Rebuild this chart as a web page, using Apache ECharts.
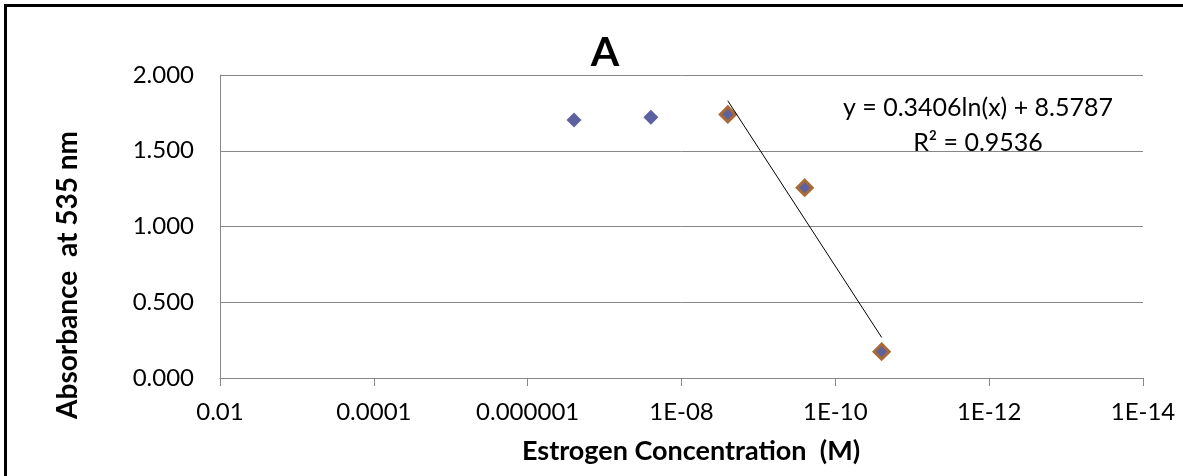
<!DOCTYPE html>
<html>
<head>
<meta charset="utf-8">
<script src="https://cdn.jsdelivr.net/npm/echarts@6/dist/echarts.min.js"></script>
<style>
html,body{margin:0;padding:0;background:#fff;}
#chart{width:1183px;height:476px;}
</style>
</head>
<body>
<div id="chart"></div>
<script>
// ---- data ----
var concentration = [2.5e-7, 2.5e-8, 2.5e-9, 2.5e-10, 2.5e-11];   // M
var absorbance    = [1.703, 1.721, 1.740, 1.256, 0.174];
var fittedIndex   = [2, 3, 4];                                   // points used for the fit
var trendX        = [2.5e-9, 2.5e-11];
var trendY        = [1.830, 0.268];
var xTickLabels   = ['0.01', '0.0001', '0.000001', '1E-08', '1E-10', '1E-12', '1E-14'];
var xTickExps     = [-2, -4, -6, -8, -10, -12, -14];
var equationText  = 'y = 0.3406ln(x) + 8.5787';
var r2Text        = 'R² = 0.9536';
var chartTitle    = 'A';
var xTitle        = 'Estrogen Concentration  (M)';
var yTitle        = 'Absorbance  at 535 nm';

var allPts = concentration.map(function (c, i) { return [c, absorbance[i]]; });
var fitPts = fittedIndex.map(function (i) { return [concentration[i], absorbance[i]]; });
var trendPts = trendX.map(function (x, i) { return [x, trendY[i]]; });

var FONT = 'Lato, "Open Sans", sans-serif';
var chart = echarts.init(document.getElementById('chart'), null, {renderer: 'canvas'});
chart.setOption({
  animation: false,
  backgroundColor: '#ffffff',
  grid: {left: 220, right: 40, top: 75, bottom: 98, containLabel: false},
  xAxis: {
    type: 'log', logBase: 100, min: 1e-14, max: 0.01, inverse: true, splitNumber: 6,
    axisLine: {show: true, lineStyle: {color: '#878787', width: 1}},
    axisTick: {show: true, length: 8, lineStyle: {color: '#878787'}},
    splitLine: {show: false},
    minorTick: {show: false},
    axisLabel: {
      margin: 22, color: '#000', fontFamily: FONT, fontSize: 24,
      formatter: function (v) {
        var e = Math.round(Math.log(v) / Math.LN10);
        var k = xTickExps.indexOf(e);
        return k >= 0 ? xTickLabels[k] : '';
      }
    }
  },
  yAxis: {
    type: 'value', min: 0, max: 2, interval: 0.5,
    axisLine: {show: true, lineStyle: {color: '#878787', width: 1}},
    axisTick: {show: false},
    splitLine: {show: true, lineStyle: {color: '#878787', width: 1}},
    axisLabel: {
      margin: 26, color: '#000', fontFamily: FONT, fontSize: 24,
      formatter: function (v) { return v.toFixed(3); }
    }
  },
  series: [
    {
      type: 'scatter', data: allPts, symbol: 'diamond', symbolSize: 15, z: 3,
      itemStyle: {color: '#5d61a0', opacity: 1}
    },
    {
      type: 'scatter', data: fitPts, symbol: 'diamond', symbolSize: 15, z: 4,
      itemStyle: {color: '#5d61a0', borderColor: '#a86a36', borderWidth: 3, opacity: 1}
    },
    {
      type: 'line', data: trendPts, symbol: 'none', z: 5,
      lineStyle: {color: '#000', width: 1}
    }
  ],
  graphic: [
    {type: 'rect', shape: {x: 5.5, y: 5.5, width: 1200, height: 500},
     style: {fill: null, stroke: '#000', lineWidth: 3}, z: 100},
    {type: 'text', x: 605, y: 53, style: {text: chartTitle, font: 'bold 41px ' + FONT, fill: '#000', textAlign: 'center', textVerticalAlign: 'middle'}},
    {type: 'text', x: 691, y: 451, style: {text: xTitle, font: 'bold 27px ' + FONT, fill: '#000', textAlign: 'center', textVerticalAlign: 'middle'}},
    {type: 'text', x: 68, y: 275, rotation: Math.PI / 2, style: {text: yTitle, font: 'bold 28px ' + FONT, fill: '#000', textAlign: 'center', textVerticalAlign: 'middle'}},
    {type: 'text', x: 978, y: 108, style: {text: equationText, font: '25px ' + FONT, fill: '#000', textAlign: 'center', textVerticalAlign: 'middle'}},
    {type: 'text', x: 978, y: 143, style: {text: r2Text, font: '25px ' + FONT, fill: '#000', textAlign: 'center', textVerticalAlign: 'middle'}}
  ]
});
</script>
</body>
</html>
